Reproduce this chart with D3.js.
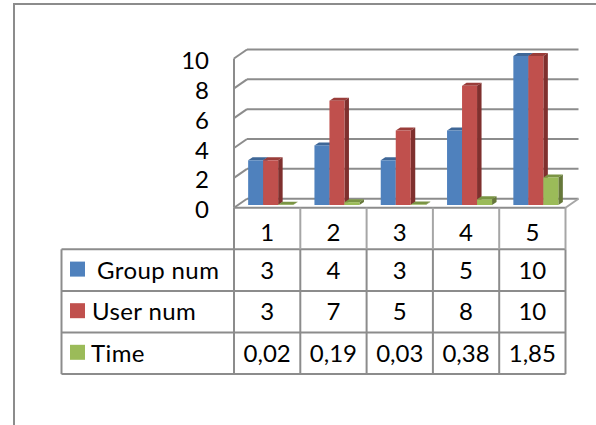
<!DOCTYPE html>
<html>
<head>
<meta charset="utf-8">
<script src="https://cdnjs.cloudflare.com/ajax/libs/d3/7.8.5/d3.min.js"></script>
<style>
  body { margin: 0; background: #fff; }
  text { font-family: Lato, "Open Sans", sans-serif; fill: #000; }
</style>
</head>
<body>
<div id="chart"></div>
<script>
var categories = ["1", "2", "3", "4", "5"];
var groupNum = [3, 4, 3, 5, 10];
var userNum = [3, 7, 5, 8, 10];
var timeVals = [0.02, 0.19, 0.03, 0.38, 1.85];
var seriesNames = ["Group num", "User num", "Time"];
var yTicks = [0, 2, 4, 6, 8, 10];
var gridColor = "#8c8c8c";

var series = [
  {name: seriesNames[0], values: groupNum, front: "#4f81bd", side: "#385d8a", top: "#3f6797"},
  {name: seriesNames[1], values: userNum, front: "#c0504d", side: "#7f302e", top: "#9a3d3a"},
  {name: seriesNames[2], values: timeVals, front: "#9bbb59", side: "#66783a", top: "#7a9444"}
];

var svg = d3.select("#chart").append("svg")
  .attr("width", 596).attr("height", 425)
  .style("display", "block");

// outer frame, only top and left show in the crop
svg.append("path")
  .attr("d", "M14,425V4H596")
  .attr("fill", "none").attr("stroke", gridColor).attr("stroke-width", 2);

// depth of the fake 3d floor
var depthX = 13, depthY = 9;
var plotLeft = 234, plotRight = 565.5;

// front plane scale, gridlines are drawn on the back wall
var y = d3.scaleLinear().domain([0, 10]).range([207.7, 58.5]);
var x = d3.scaleBand().domain(categories).range([plotLeft, plotRight]);

var walls = svg.append("g")
  .attr("fill", "none").attr("stroke", gridColor).attr("stroke-width", 2);

walls.selectAll("line.grid")
  .data(yTicks)
  .enter()
  .append("line")
    .attr("class", "grid")
    .attr("x1", plotLeft + depthX)
    .attr("x2", plotRight + depthX)
    .attr("y1", function (d) { return y(d) - depthY; })
    .attr("y2", function (d) { return y(d) - depthY; });

// side wall slants
walls.selectAll("line.slant")
  .data(yTicks)
  .enter()
  .append("line")
    .attr("class", "slant")
    .attr("x1", plotLeft)
    .attr("x2", plotLeft + depthX)
    .attr("y1", function (d) { return y(d); })
    .attr("y2", function (d) { return y(d) - depthY; });

walls.append("line")
  .attr("x1", plotLeft).attr("x2", plotLeft)
  .attr("y1", y(10)).attr("y2", y(0));

// floor edge, lighter than the grid
svg.append("line")
  .attr("x1", plotRight).attr("x2", plotRight + depthX)
  .attr("y1", y(0)).attr("y2", y(0) - depthY)
  .attr("stroke", "#a6a6a6").attr("stroke-width", 2);

// bars sit a bit behind the front plane
var barY = d3.scaleLinear().domain([0, 10]).range([205, 56]);
var barW = 15, barDx = 4.5, barDy = 3;
var barOffset = x.bandwidth() / 2 - barW * 1.5 + 3.5;

series.forEach(function (s, i) {
  var g = svg.append("g").selectAll("g")
    .data(s.values)
    .enter()
    .append("g")
      .attr("transform", function (d, j) {
        return "translate(" + (x(categories[j]) + barOffset + i * barW) + ",0)";
      });

  g.append("path")
    .attr("fill", s.top)
    .attr("d", function (d) {
      var t = barY(d);
      return "M0," + t + "l" + barDx + "," + (-barDy) + "h" + barW + "l" + (-barDx) + "," + barDy + "z";
    });

  g.append("path")
    .attr("fill", s.side)
    .attr("d", function (d) {
      var t = barY(d);
      return "M" + barW + "," + t + "l" + barDx + "," + (-barDy) + "V" + (barY(0) - barDy) + "l" + (-barDx) + "," + barDy + "z";
    });

  g.append("rect")
    .attr("fill", s.front)
    .attr("x", 0)
    .attr("width", barW)
    .attr("y", function (d) { return barY(d); })
    .attr("height", function (d) { return barY(0) - barY(d); });
});

// y axis labels
svg.selectAll("text.ytick")
  .data(yTicks)
  .enter()
  .append("text")
    .attr("class", "ytick")
    .attr("x", 209)
    .attr("y", function (d) { return y(d) + 1; })
    .attr("text-anchor", "end")
    .attr("dominant-baseline", "central")
    .attr("font-size", 24)
    .text(function (d) { return d; });

// data table
var rowTop = 207.7, rowH = 41.6, legendLeft = 61.5;

var table = svg.append("g")
  .attr("stroke", gridColor).attr("stroke-width", 2).attr("fill", "none");

// category row has lighter separators
x.domain().slice(1).forEach(function (c) {
  svg.append("line")
    .attr("x1", x(c)).attr("x2", x(c))
    .attr("y1", rowTop).attr("y2", rowTop + rowH)
    .attr("stroke", "#a6a6a6").attr("stroke-width", 2);
});
svg.append("line")
  .attr("x1", plotRight).attr("x2", plotRight)
  .attr("y1", rowTop).attr("y2", rowTop + rowH)
  .attr("stroke", "#a6a6a6").attr("stroke-width", 2);

table.append("line")
  .attr("x1", plotLeft).attr("x2", plotRight)
  .attr("y1", rowTop).attr("y2", rowTop);

d3.range(1, 5).forEach(function (r) {
  table.append("line")
    .attr("x1", legendLeft).attr("x2", plotRight)
    .attr("y1", rowTop + r * rowH).attr("y2", rowTop + r * rowH);
});

table.append("line")
  .attr("x1", legendLeft).attr("x2", legendLeft)
  .attr("y1", rowTop + rowH).attr("y2", rowTop + 4 * rowH);
table.append("line")
  .attr("x1", plotLeft).attr("x2", plotLeft)
  .attr("y1", rowTop).attr("y2", rowTop + 4 * rowH);

x.domain().slice(1).forEach(function (c) {
  table.append("line")
    .attr("x1", x(c)).attr("x2", x(c))
    .attr("y1", rowTop + rowH).attr("y2", rowTop + 4 * rowH);
});
table.append("line")
  .attr("x1", plotRight).attr("x2", plotRight)
  .attr("y1", rowTop + rowH).attr("y2", rowTop + 4 * rowH);

// the category row text sits lower in its cell than the data rows
function cellText(label, col, row) {
  svg.append("text")
    .attr("x", x(categories[col]) + x.bandwidth() / 2)
    .attr("y", rowTop + (row + 0.5) * rowH + (row === 0 ? 3 : -1))
    .attr("text-anchor", "middle")
    .attr("dominant-baseline", "central")
    .attr("font-size", 24)
    .text(label);
}

categories.forEach(function (c, j) {
  cellText(c, j, 0);
  series.forEach(function (s, i) {
    cellText(String(s.values[j]).replace(".", ","), j, i + 1);
  });
});

// legend keys, label offsets differ per row in the original
var labelX = [97, 92, 91];
series.forEach(function (s, i) {
  var cy = rowTop + (i + 1.5) * rowH;
  svg.append("rect")
    .attr("x", 70).attr("y", cy - 8.5)
    .attr("width", 15).attr("height", 15)
    .attr("fill", s.front);
  svg.append("text")
    .attr("x", labelX[i])
    .attr("y", cy - 1)
    .attr("dominant-baseline", "central")
    .attr("font-size", 24)
    .attr("letter-spacing", 0.4)
    .text(s.name);
});
</script>
</body>
</html>
